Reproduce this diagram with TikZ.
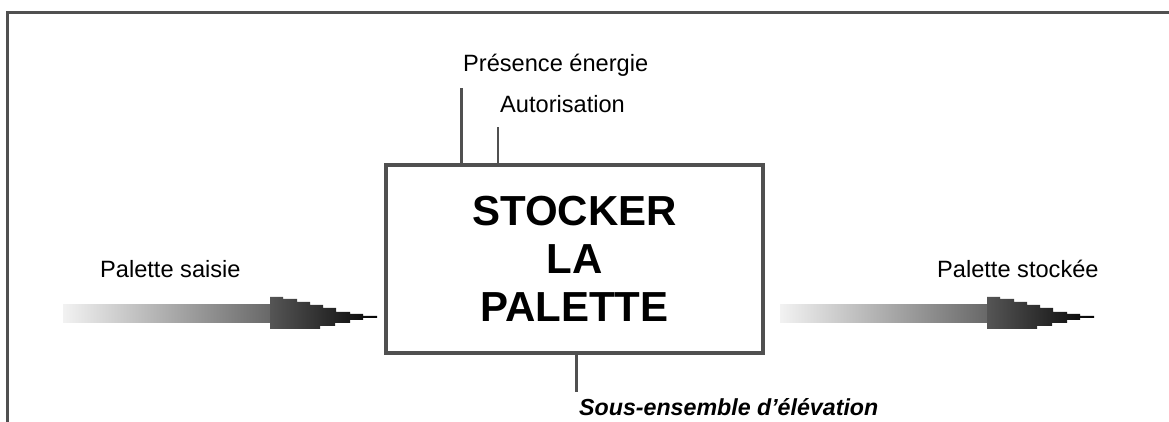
\documentclass[tikz,border=0pt]{standalone}
\usepackage{fontspec}
\setmainfont{Liberation Sans}
\definecolor{linegray}{HTML}{505050}
\definecolor{barlight}{HTML}{F2F2F2}
\definecolor{bardark}{HTML}{686868}
\definecolor{headstart}{HTML}{555555}
\definecolor{headend}{HTML}{050505}
\begin{document}
\begin{tikzpicture}[x=1pt,y=1pt,
  frame/.style={draw=linegray,line width=3pt},
  funcbox/.style={draw=linegray,line width=3.5pt,minimum width=377pt,minimum height=188pt,inner sep=0pt,
    align=center,font=\fontsize{42}{48}\selectfont\bfseries},
  ctrl/.style={draw=linegray,line width=3pt},
  lbl/.style={inner sep=0pt,font=\fontsize{23.6}{28}\selectfont},
  outlbl/.style={inner sep=0pt,font=\fontsize{23.2}{28}\selectfont\bfseries\itshape},
  flowbar/.style={left color=barlight,right color=bardark,shading angle=90},
  flowhead/.style={left color=headstart,right color=headend}
]
\useasboundingbox (0,0) rectangle (1169,422);
% outer frame
\draw[frame] (7.5,0) -- (7.5,409) -- (1169,409);

% main box
\node[funcbox] (box) at (574.5,163) {STOCKER\\LA\\PALETTE};

% control inputs
\coordinate (pe) at (461,334);
\coordinate (aut) at (498,295);
\coordinate (mec) at (576,30);
\draw[ctrl] (box.north -| pe) -- (pe);
\draw[ctrl,line width=2.6pt] (box.north -| aut) -- (aut);
\draw[ctrl] (box.south -| mec) -- (mec);

\node[lbl,anchor=base west] (tpe) at (463,350) {Présence énergie};
\node[lbl,anchor=base west] (taut) at (500,309) {Autorisation};
\node[outlbl,anchor=base west] (tmec) at (579,6) {Sous-ensemble d’élévation};

% input flow arrow
\foreach \dx/\nm in {0/in,717/out}{
  \begin{scope}[xshift=\dx pt]
    \shade[left color=barlight,right color=bardark] (63,99) rectangle (270,117);
    \shade[flowhead] (270,125) -- (283,125) -- (283,123) -- (297,123) -- (297,120) -- (310,120) -- (310,117)
      -- (323,117) -- (323,114) -- (336,114) -- (336,110) -- (350,110) -- (350,108) -- (363,108)
      -- (363,106) -- (377,106) -- (377,104) -- (363,104) -- (363,102) -- (350,102) -- (350,99)
      -- (335,99) -- (335,96) -- (320,96) -- (320,93) -- (270,93) -- cycle;
    \coordinate (tip\nm) at (377,105);
  \end{scope}
}
\node[lbl,anchor=base west] (tin) at (100,144) {Palette saisie};
\node[lbl,anchor=base west] (tout) at (937,144) {Palette stockée};
\end{tikzpicture}
\end{document}
